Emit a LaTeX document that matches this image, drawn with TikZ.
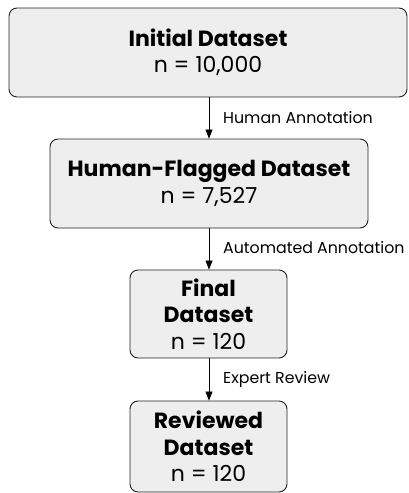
\documentclass[tikz,border=0pt]{standalone}
\usepackage{fontspec}
\setmainfont{Poppins}
\usetikzlibrary{arrows.meta}
\definecolor{boxfill}{HTML}{EEEEEE}
\definecolor{boxline}{HTML}{222222}
\tikzset{
  stagebox/.style={draw=boxline, fill=boxfill, line width=0.9pt, rounded corners=8pt, align=center, inner sep=0pt, font=\fontsize{22}{26.5}\selectfont},
  flowarrow/.style={draw=black, line width=0.8pt, -{Triangle[length=9pt,width=7pt]}},
  steplabel/.style={anchor=west, font=\fontsize{15.8}{18}\selectfont, inner sep=0pt}
}
\begin{document}
\begin{tikzpicture}[x=1pt,y=-1pt]
\useasboundingbox (0,0) rectangle (408,493);
\node[stagebox, minimum width=398pt, minimum height=89pt] (init) at (208,52.5) {\textbf{Initial Dataset}\\n = 10,000};
\node[stagebox, minimum width=318pt, minimum height=89pt] (flag) at (209,183.5) {\textbf{Human-Flagged Dataset}\\n = 7,527};
\node[stagebox, minimum width=157pt, minimum height=88pt] (final) at (208.5,314) {\textbf{Final}\\\textbf{Dataset}\\n = 120};
\node[stagebox, minimum width=157pt, minimum height=91pt] (rev) at (208.5,446.5) {\textbf{Reviewed}\\\textbf{Dataset}\\n = 120};
\draw[flowarrow] (init.south -| 209,0) -- (flag.north -| 209,0);
\draw[flowarrow] (flag.south -| 209,0) -- (final.north -| 209,0);
\draw[flowarrow] (final.south -| 209,0) -- (rev.north -| 209,0);
\node[steplabel] (l1) at (223,118) {Human Annotation};
\node[steplabel] (l2) at (223,248) {Automated Annotation};
\node[steplabel] (l3) at (223,380) {Expert Review};
\end{tikzpicture}
\end{document}
